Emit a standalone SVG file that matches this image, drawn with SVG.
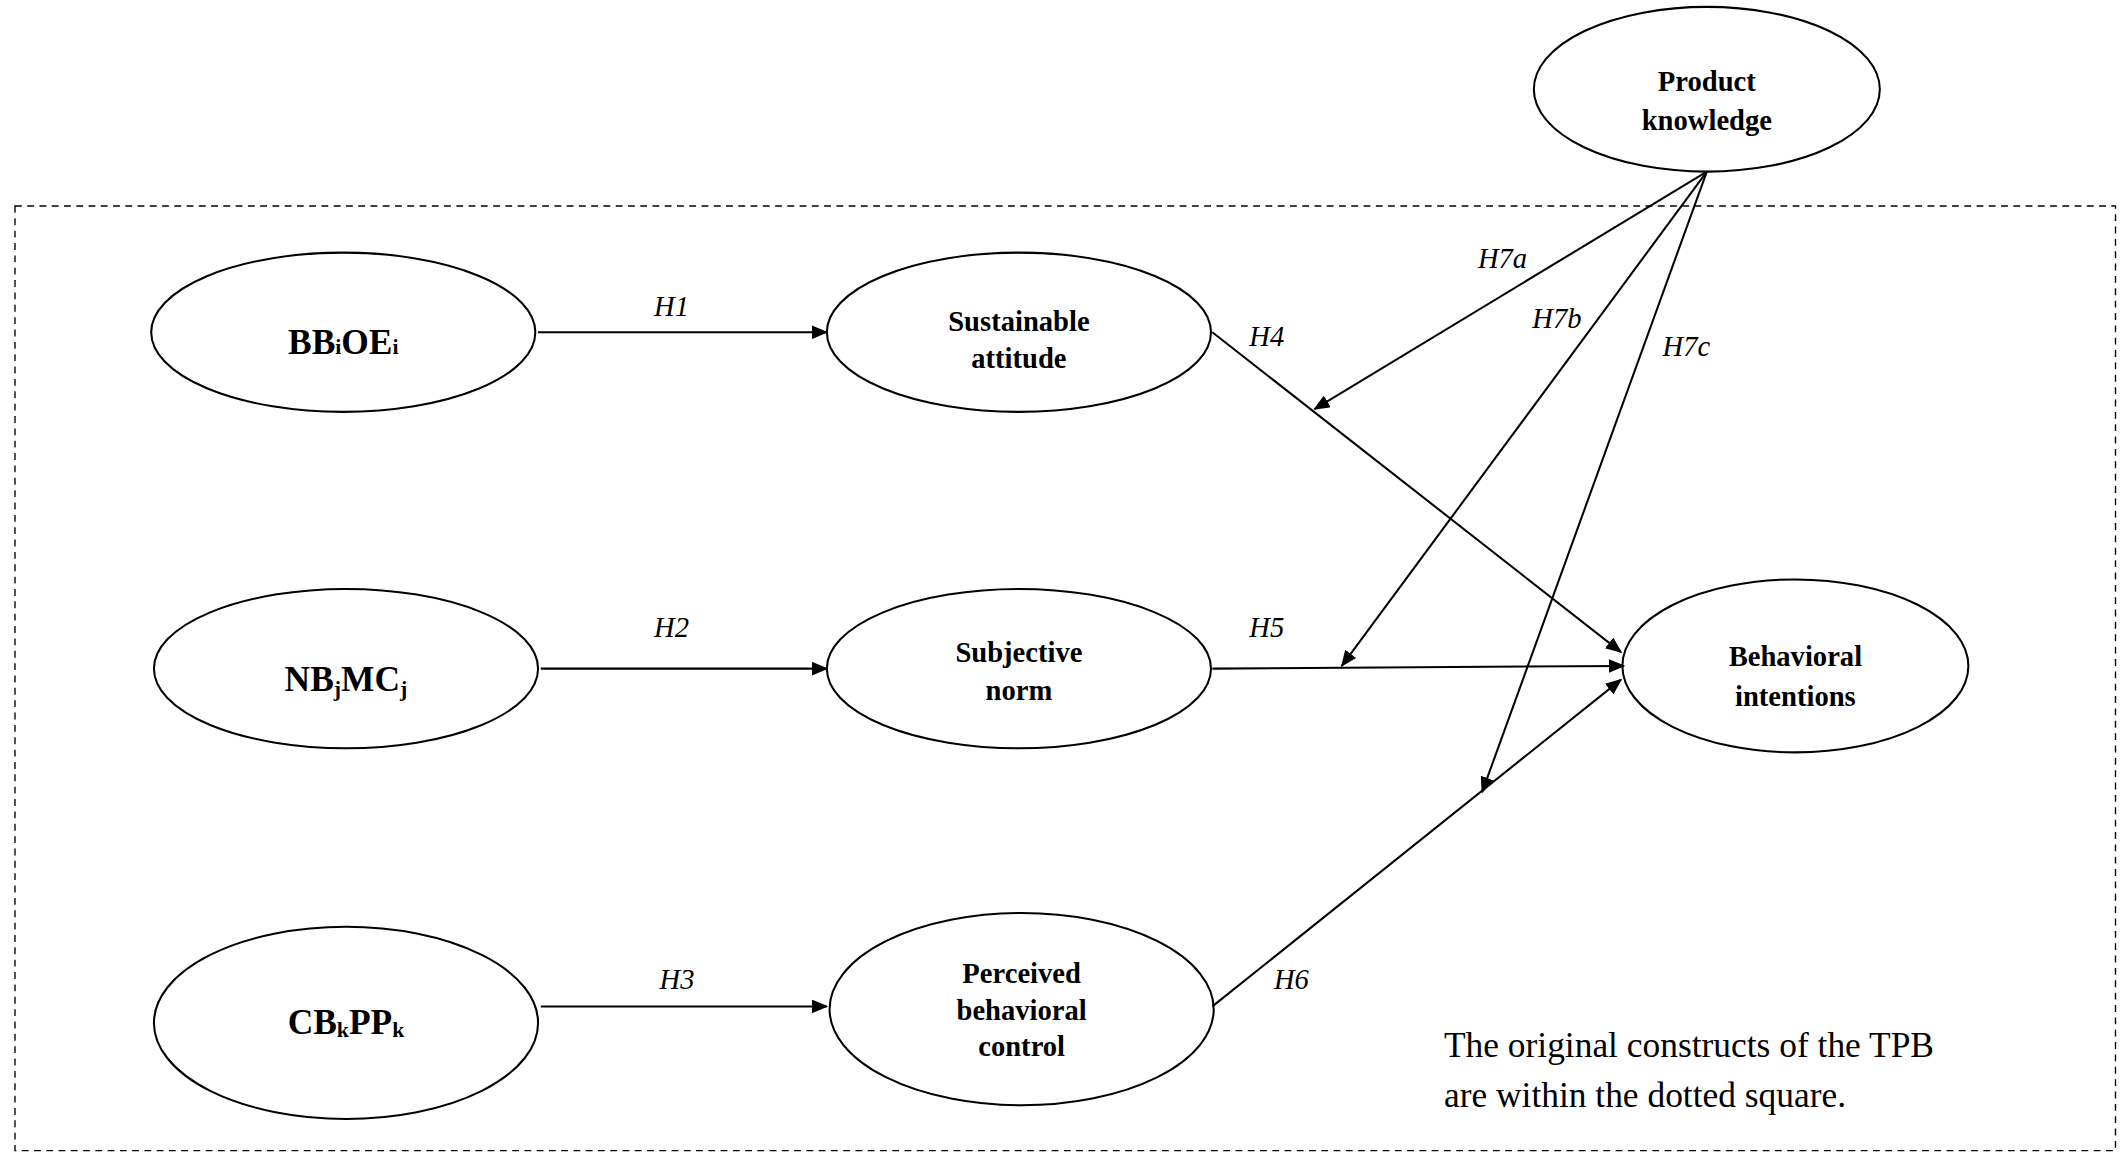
<svg xmlns="http://www.w3.org/2000/svg" width="2125" height="1167" viewBox="0 0 2125 1167">
<style>
.n{fill:#fff;stroke:#000;stroke-width:1.5}
.t{font-family:"Liberation Serif",serif;font-weight:bold;font-size:21px;text-anchor:middle}
.b{font-size:26px}
.h{font-family:"Liberation Serif",serif;font-style:italic;font-size:21px;text-anchor:middle}
.c{stroke:#000;stroke-width:1.5;fill:none;marker-end:url(#a)}
.note{font-family:"Liberation Serif",serif;font-size:26px}
</style>
<defs><marker id="a" markerWidth="12" markerHeight="10" refX="11" refY="5" orient="auto" markerUnits="userSpaceOnUse"><path d="M0,0L12,5L0,10z"/></marker></defs>
<rect width="2125" height="1167" fill="#fff"/>
<g transform="scale(1.3622,1.373)">
<rect x="11" y="150" width="1542" height="688" fill="none" stroke="#000" stroke-width="1" stroke-dasharray="5,4"/>
<g id="pk"><ellipse class="n" cx="1253" cy="65" rx="127" ry="60"/><text class="t" x="1253" y="66">Product</text><text class="t" x="1253" y="95">knowledge</text></g>
<g id="bb"><ellipse class="n" cx="252" cy="242" rx="141" ry="58"/><text class="t b" x="252" y="258">BB<tspan font-size="16">i</tspan>OE<tspan font-size="16">i</tspan></text></g>
<g id="sa"><ellipse class="n" cx="748" cy="242" rx="141" ry="58"/><text class="t" x="748" y="241">Sustainable</text><text class="t" x="748" y="268">attitude</text></g>
<g id="nb"><ellipse class="n" cx="254" cy="487" rx="141" ry="58"/><text class="t b" x="254" y="503">NB<tspan font-size="16" dy="4">j</tspan><tspan dy="-4">MC</tspan><tspan font-size="16" dy="4">j</tspan></text></g>
<g id="sn"><ellipse class="n" cx="748" cy="487" rx="141" ry="58"/><text class="t" x="748" y="482">Subjective</text><text class="t" x="748" y="510">norm</text></g>
<g id="cb"><ellipse class="n" cx="254" cy="745" rx="141" ry="70"/><text class="t b" x="254" y="753">CB<tspan font-size="16" dy="2">k</tspan><tspan dy="-2">PP</tspan><tspan font-size="16" dy="2">k</tspan></text></g>
<g id="pbc"><ellipse class="n" cx="750" cy="735" rx="141" ry="70"/><text class="t" x="750" y="716">Perceived</text><text class="t" x="750" y="743">behavioral</text><text class="t" x="750" y="769">control</text></g>
<g id="bi"><ellipse class="n" cx="1318" cy="485" rx="127" ry="63"/><text class="t" x="1318" y="485">Behavioral</text><text class="t" x="1318" y="514">intentions</text></g>
<g id="connectors">
<line class="c" x1="395" y1="242" x2="607" y2="242"/>
<line class="c" x1="397" y1="487" x2="607" y2="487"/>
<line class="c" x1="397" y1="733" x2="607" y2="733"/>
<line class="c" x1="890" y1="242" x2="1190" y2="475"/>
<line class="c" x1="890" y1="487" x2="1192" y2="485"/>
<line class="c" x1="890" y1="733" x2="1190" y2="495"/>
<line class="c" x1="1253" y1="125" x2="965" y2="298"/>
<line class="c" x1="1253" y1="125" x2="985" y2="485"/>
<line class="c" x1="1253" y1="125" x2="1088" y2="577"/>
</g>
<g id="labels">
<text class="h" x="493" y="230">H1</text><text class="h" x="493" y="464">H2</text><text class="h" x="497" y="720">H3</text>
<text class="h" x="930" y="252">H4</text><text class="h" x="930" y="464">H5</text><text class="h" x="948" y="720">H6</text>
<text class="h" x="1103" y="195">H7a</text><text class="h" x="1143" y="239">H7b</text><text class="h" x="1238" y="259">H7c</text>
</g>
<text class="note" x="1060" y="770">The original constructs of the TPB</text>
<text class="note" x="1060" y="806">are within the dotted square.</text>
</g>
</svg>
